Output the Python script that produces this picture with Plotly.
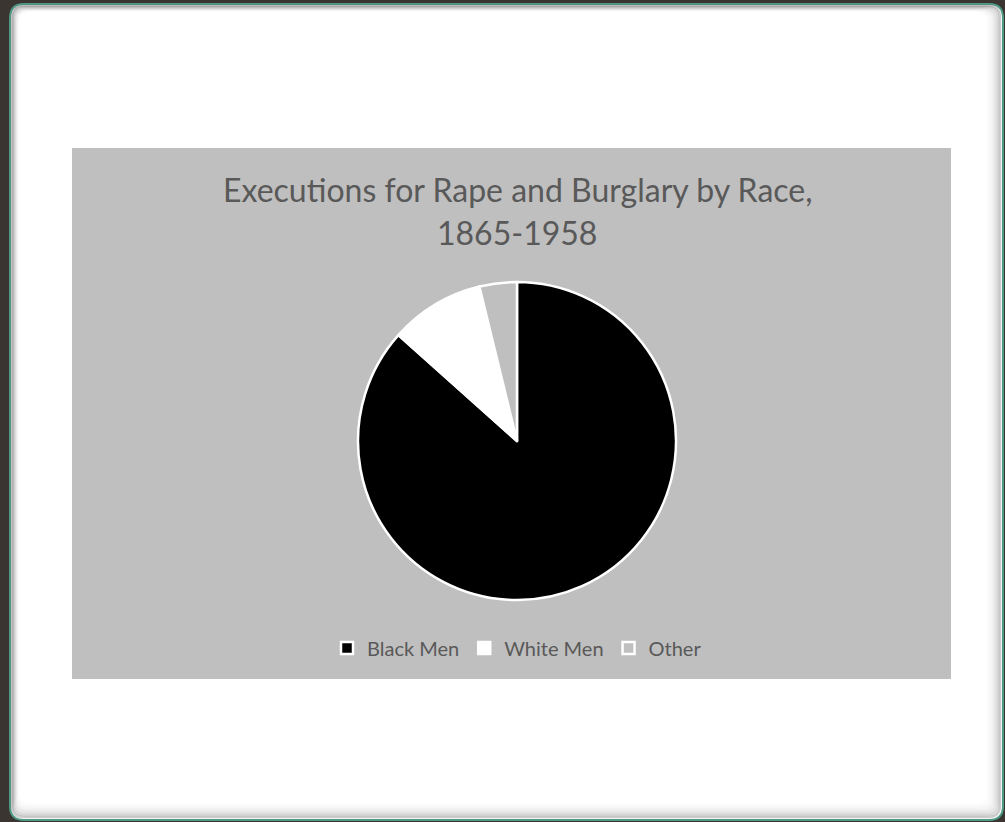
import plotly.graph_objects as go

# Share of executions for rape and burglary by race, 1865-1958 (percent)
categories = ["Black Men", "White Men", "Other"]
shares = [86.6, 9.6, 3.8]
slice_colors = ["#000000", "#ffffff", "#bfbfbf"]

W, H = 1005, 822


def px(x):
    return x / W


def py(y):
    return 1 - y / H


def rounded_rect(x0, y0, x1, y1, r):
    # SVG path of a rounded rectangle in paper coordinates (given pixel corners)
    pts = (
        f"M {px(x0 + r)},{py(y0)} L {px(x1 - r)},{py(y0)} "
        f"Q {px(x1)},{py(y0)} {px(x1)},{py(y0 + r)} "
        f"L {px(x1)},{py(y1 - r)} Q {px(x1)},{py(y1)} {px(x1 - r)},{py(y1)} "
        f"L {px(x0 + r)},{py(y1)} Q {px(x0)},{py(y1)} {px(x0)},{py(y1 - r)} "
        f"L {px(x0)},{py(y0 + r)} Q {px(x0)},{py(y0)} {px(x0 + r)},{py(y0)} Z"
    )
    return pts


shapes = [
    # dark surround
    dict(type="rect", xref="paper", yref="paper", x0=0, x1=1, y0=0, y1=1,
         fillcolor="#3a3531", line=dict(width=0), layer="below"),
    # white card with teal edge
    dict(type="path", xref="paper", yref="paper",
         path=rounded_rect(10, 4, 1003, 820, 14),
         fillcolor="#ffffff", line=dict(color="#4f9a84", width=2), layer="below"),
]

# soft inner shadow along the card edges, heavier on the right and bottom
for i, op in enumerate([0.30, 0.22, 0.15, 0.10, 0.06, 0.035, 0.02]):
    d = 2 + i * 2
    shapes.append(dict(
        type="path", xref="paper", yref="paper",
        path=rounded_rect(11 + d * 0.5, 5 + d * 0.4, 1002 - d, 819 - d, 12),
        fillcolor="rgba(0,0,0,0)",
        line=dict(color=f"rgba(90,90,90,{op})", width=2.5), layer="below"))

# grey chart area
shapes.append(dict(type="rect", xref="paper", yref="paper",
                   x0=px(72), x1=px(951), y0=py(679), y1=py(148),
                   fillcolor="#bfbfbf", line=dict(width=0), layer="below"))

cx, cy, r = 517, 441, 159

fig = go.Figure(go.Pie(
    labels=categories,
    values=shares,
    sort=False,
    direction="clockwise",
    rotation=0,
    marker=dict(colors=slice_colors, line=dict(color="#ffffff", width=2.5)),
    textinfo="none",
    hoverinfo="label+percent",
    domain=dict(x=[px(cx - r), px(cx + r)], y=[py(cy + r), py(cy - r)]),
))

title_font = dict(family="Lato", size=32, color="#595959")
annotations = [
    dict(text="Executions for Rape and Burglary by Race,", x=px(517), y=py(189),
         xref="paper", yref="paper", showarrow=False, font=title_font,
         xanchor="center", yanchor="middle"),
    dict(text="1865-1958", x=px(517), y=py(232),
         xref="paper", yref="paper", showarrow=False, font=title_font,
         xanchor="center", yanchor="middle"),
]

fig.update_layout(
    width=W, height=H,
    margin=dict(l=0, r=0, t=0, b=0),
    paper_bgcolor="#ffffff",
    plot_bgcolor="#ffffff",
    shapes=shapes,
    annotations=annotations,
    showlegend=True,
    legend=dict(orientation="h", x=px(517), y=py(648), xanchor="center",
                yanchor="middle", font=dict(family="Lato", size=20, color="#595959"),
                bgcolor="rgba(0,0,0,0)", itemwidth=30),
)

fig.write_html("out.html")
